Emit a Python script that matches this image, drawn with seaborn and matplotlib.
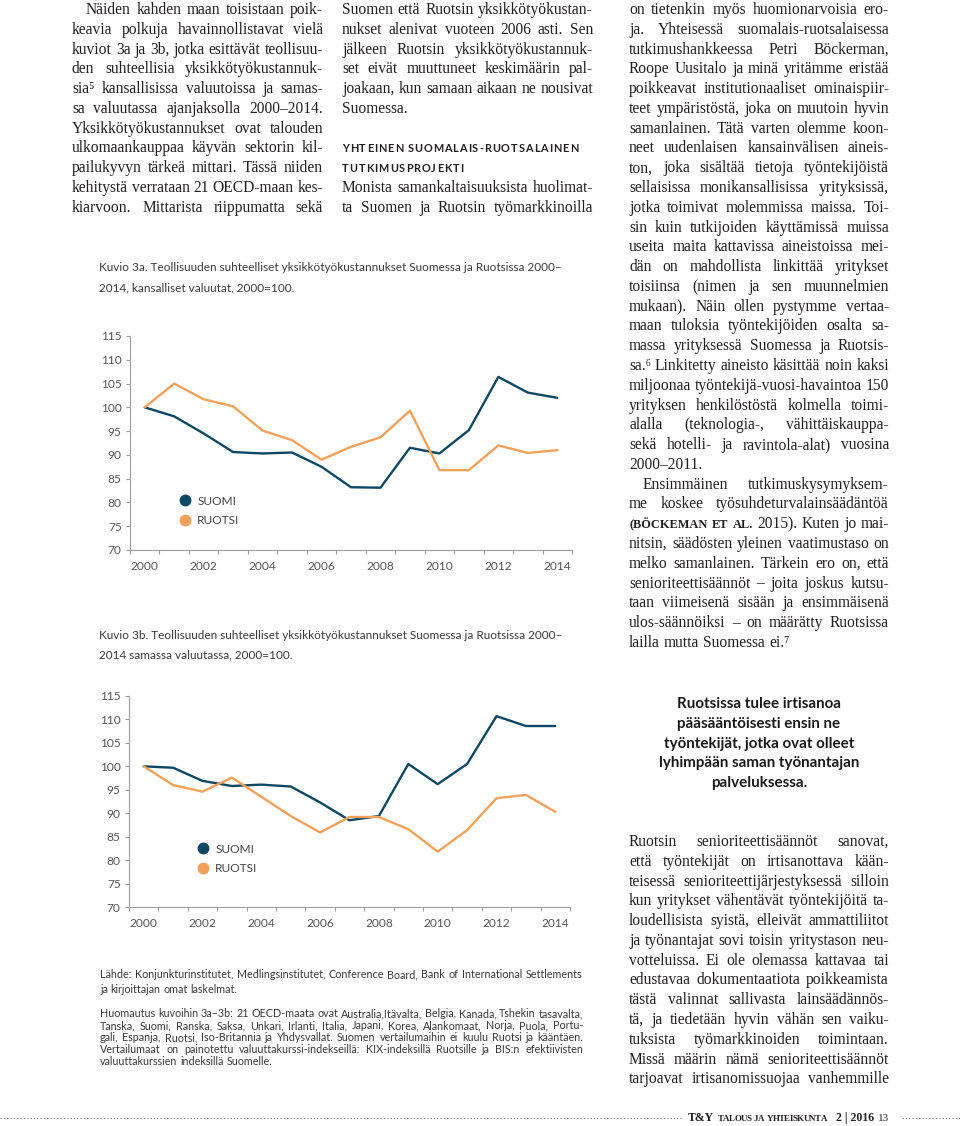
import numpy as np
import pandas as pd
import matplotlib
matplotlib.use('Agg')
import matplotlib.pyplot as plt
from matplotlib.lines import Line2D
import seaborn as sns

# ---- chart data ----
years = list(range(2000, 2015))
countries = ['SUOMI', 'RUOTSI']
suomi_3a = [100, 98.1, 94.5, 90.6, 90.3, 90.5, 87.5, 83.2, 83.1, 91.5, 90.3, 95.2, 106.4, 103.1, 102.0]
ruotsi_3a = [100, 105.0, 101.7, 100.2, 95.1, 93.1, 89.0, 91.7, 93.7, 99.3, 86.8, 86.8, 92.0, 90.4, 91.0]
suomi_3b = [100, 99.7, 96.9, 95.8, 96.1, 95.7, 92.3, 88.5, 89.4, 100.5, 96.2, 100.5, 110.7, 108.6, 108.6]
ruotsi_3b = [100, 96.0, 94.6, 97.6, 93.5, 89.4, 85.9, 89.2, 89.2, 86.6, 81.8, 86.4, 93.2, 93.9, 90.3]
y_ticks = [70, 75, 80, 85, 90, 95, 100, 105, 110, 115]
x_labels = [2000, 2002, 2004, 2006, 2008, 2010, 2012, 2014]
palette = {'SUOMI': '#0c4764', 'RUOTSI': '#f2a15a'}

# ---- page text ----
col1 = ["Näiden kahden maan toisistaan poik-",
        "keavia polkuja havainnollistavat vielä",
        "kuviot 3a ja 3b, jotka esittävät teollisuu-",
        "den suhteellisia yksikkötyökustannuk-",
        "sia⁵ kansallisissa valuutoissa ja samas-",
        "sa valuutassa ajanjaksolla 2000–2014.",
        "Yksikkötyökustannukset ovat talouden",
        "ulkomaankauppaa käyvän sektorin kil-",
        "pailukyvyn tärkeä mittari. Tässä niiden",
        "kehitystä verrataan 21 OECD-maan kes-",
        "kiarvoon. Mittarista riippumatta sekä"]
col2_top = ["Suomen että Ruotsin yksikkötyökustan-",
            "nukset alenivat vuoteen 2006 asti. Sen",
            "jälkeen Ruotsin yksikkötyökustannuk-",
            "set eivät muuttuneet keskimäärin pal-",
            "joakaan, kun samaan aikaan ne nousivat",
            "Suomessa."]
heading = ["YHTEINEN SUOMALAIS-RUOTSALAINEN", "TUTKIMUSPROJEKTI"]
col2_bottom = ["Monista samankaltaisuuksista huolimat-",
               "ta Suomen ja Ruotsin työmarkkinoilla"]
col3 = ["on tietenkin myös huomionarvoisia ero-",
        "ja. Yhteisessä suomalais-ruotsalaisessa",
        "tutkimushankkeessa Petri Böckerman,",
        "Roope Uusitalo ja minä yritämme eristää",
        "poikkeavat institutionaaliset ominaispiir-",
        "teet ympäristöstä, joka on muutoin hyvin",
        "samanlainen. Tätä varten olemme koon-",
        "neet uudenlaisen kansainvälisen aineis-",
        "ton, joka sisältää tietoja työntekijöistä",
        "sellaisissa monikansallisissa yrityksissä,",
        "jotka toimivat molemmissa maissa. Toi-",
        "sin kuin tutkijoiden käyttämissä muissa",
        "useita maita kattavissa aineistoissa mei-",
        "dän on mahdollista linkittää yritykset",
        "toisiinsa (nimen ja sen muunnelmien",
        "mukaan). Näin ollen pystymme vertaa-",
        "maan tuloksia työntekijöiden osalta sa-",
        "massa yrityksessä Suomessa ja Ruotsis-",
        "sa.⁶ Linkitetty aineisto käsittää noin kaksi",
        "miljoonaa työntekijä-vuosi-havaintoa 150",
        "yrityksen henkilöstöstä kolmella toimi-",
        "alalla (teknologia-, vähittäiskauppa-",
        "sekä hotelli- ja ravintola-alat) vuosina",
        "2000–2011.",
        "Ensimmäinen tutkimuskysymyksem-",
        "me koskee työsuhdeturvalainsäädäntöä",
        "^(BÖCKEMAN ^ET ^AL. 2015). Kuten jo mai-",
        "nitsin, säädösten yleinen vaatimustaso on",
        "melko samanlainen. Tärkein ero on, että",
        "senioriteettisäännöt – joita joskus kutsu-",
        "taan viimeisenä sisään ja ensimmäisenä",
        "ulos-säännöiksi – on määrätty Ruotsissa",
        "lailla mutta Suomessa ei.⁷"]
col3_bottom = ["Ruotsin senioriteettisäännöt sanovat,",
               "että työntekijät on irtisanottava kään-",
               "teisessä senioriteettijärjestyksessä silloin",
               "kun yritykset vähentävät työntekijöitä ta-",
               "loudellisista syistä, elleivät ammattiliitot",
               "ja työnantajat sovi toisin yritystason neu-",
               "votteluissa. Ei ole olemassa kattavaa tai",
               "edustavaa dokumentaatiota poikkeamista",
               "tästä valinnat sallivasta lainsäädännös-",
               "tä, ja tiedetään hyvin vähän sen vaiku-",
               "tuksista työmarkkinoiden toimintaan.",
               "Missä määrin nämä senioriteettisäännöt",
               "tarjoavat irtisanomissuojaa vanhemmille"]
quote = ["Ruotsissa tulee irtisanoa",
         "pääsääntöisesti ensin ne",
         "työntekijät, jotka ovat olleet",
         "lyhimpään saman työnantajan",
         "palveluksessa."]
caption_3a = ["Kuvio 3a. Teollisuuden suhteelliset yksikkötyökustannukset Suomessa ja Ruotsissa 2000–",
              "2014, kansalliset valuutat, 2000=100."]
caption_3b = ["Kuvio 3b. Teollisuuden suhteelliset yksikkötyökustannukset Suomessa ja Ruotsissa 2000–",
              "2014 samassa valuutassa, 2000=100."]
source = ["Lähde: Konjunkturinstitutet, Medlingsinstitutet, Conference Board, Bank of International Settlements",
          "ja kirjoittajan omat laskelmat."]
note = ["Huomautus kuvoihin 3a–3b: 21 OECD-maata ovat Australia,Itävalta, Belgia, Kanada, Tshekin tasavalta,",
        "Tanska, Suomi, Ranska, Saksa, Unkari, Irlanti, Italia, Japani, Korea, Alankomaat, Norja, Puola, Portu-",
        "gali, Espanja, Ruotsi, Iso-Britannia ja Yhdysvallat. Suomen vertailumaihin ei kuulu Ruotsi ja kääntäen.",
        "Vertailumaat on painotettu valuuttakurssi-indekseillä: KIX-indeksillä Ruotsille ja BIS:n efektiivisten",
        "valuuttakurssien indeksillä Suomelle."]

W, H = 960, 1126
sns.set_style('white')
plt.rcParams['font.family'] = ['Lato', 'DejaVu Sans']

fig = plt.figure(figsize=(W / 100, H / 100), dpi=100)
renderer = fig.canvas.get_renderer()
serif = ['Liberation Serif', 'DejaVu Serif']
sans = ['Lato', 'DejaVu Sans']
ink = '#231f20'
grey = '#3a3a3a'


def put(x, y, s, **kw):
    return fig.text(x / W, 1 - y / H, s, va='baseline', **kw)


def width(s, **kw):
    t = fig.text(0, 0, s, **kw)
    w = t.get_window_extent(renderer).width
    t.remove()
    return w


def set_line(line, x0, x1, y, size, justify=True, family=serif, color=ink):
    texts, scales = [], []
    for w in line.split(' '):
        if w.startswith('^'):
            texts.append(put(x0, y, w[1:], fontsize=size * 0.8, family=family,
                             color=color, fontweight='bold'))
            scales.append(0.8)
        else:
            texts.append(put(x0, y, w, fontsize=size, family=family, color=color))
            scales.append(1.0)
    widths = [t.get_window_extent(renderer).width for t in texts]
    min_gap = size * 100 / 72 * 0.16
    room = x1 - x0 - min_gap * (len(texts) - 1)
    if sum(widths) > room:
        k = room / sum(widths)
        for t, s in zip(texts, scales):
            t.set_fontsize(size * s * k)
        widths = [t.get_window_extent(renderer).width for t in texts]
    if justify and len(texts) > 1:
        gap = (x1 - x0 - sum(widths)) / (len(texts) - 1)
    else:
        gap = size * 100 / 72 * 0.26
    x = x0
    for t, w in zip(texts, widths):
        t.set_x(x / W)
        x += w + gap


def column(lines, x0, x1, y0, size, step=19.78, indent=(), ragged=()):
    for i, ln in enumerate(lines):
        xs = x0 + (14 if i in indent else 0)
        set_line(ln, xs, x1, y0 + i * step, size, justify=i not in ragged)


def char_widths(s, **kw):
    return [0 if ch == ' ' else width(ch, **kw) for ch in s]


def tracked(s, x0, y, track, **kw):
    x = x0
    size = kw.get('fontsize', 10)
    for ch in s:
        if ch == ' ':
            x += size * 100 / 72 * 0.3
            continue
        t = put(x, y, ch, **kw)
        x += t.get_window_extent(renderer).width + track
    return x


def tracking_for(s, target, **kw):
    size = kw.get('fontsize', 10)
    n = len(s.replace(' ', ''))
    natural = sum(char_widths(s, **kw)) + s.count(' ') * size * 100 / 72 * 0.3
    return (target - natural) / (n - 1)


body = 11.2
column(col1, 72, 323, 14, body, indent=(0,))
column(col2_top, 342, 593, 14, body, ragged=(5,))
column(col2_bottom, 342, 593, 14 + 9 * 19.78, body)
column(col3, 629, 889, 14, body, indent=(24,), ragged=(23, 32))
column(col3_bottom, 629, 889, 846, body)

# heading with letter spacing
hkw = dict(fontsize=7.8, fontweight='bold', color=ink)
track = tracking_for(heading[0], 578 - 342, **hkw)
tracked(heading[0], 342, 14 + 7 * 19.78, track, **hkw)
tracked(heading[1], 342, 14 + 8 * 19.78, track, **hkw)

# pull quote
qsize = 10 * 200 / width(quote[3], fontsize=10, fontweight='bold')
for i, ln in enumerate(quote):
    put(759, 708 + i * 19.8, ln, fontsize=qsize, fontweight='bold', color='#1a1a1a', ha='center')

# captions and notes
csize = 9 * 464 / width(caption_3a[0], fontsize=9)
for i, ln in enumerate(caption_3a):
    put(99, 271 + i * 20, ln, fontsize=csize, color=grey)
for i, ln in enumerate(caption_3b):
    put(99, 639 + i * 19.5, ln, fontsize=csize, color=grey)

nsize = 8 * 482 / width(source[0], fontsize=8)
set_line(source[0], 100, 582, 978.5, nsize, family=sans, color=grey)
set_line(source[1], 100, 582, 993, nsize, justify=False, family=sans, color=grey)
for i, ln in enumerate(note):
    set_line(ln, 100, 583, 1017 + i * 12, nsize, justify=i < len(note) - 1,
             family=sans, color=grey)


# ---- charts ----
def chart(ax, suomi, ruotsi, leg_left, leg_mid):
    df = pd.DataFrame({'vuosi': years + years,
                       'indeksi': suomi + ruotsi,
                       'maa': [countries[0]] * len(years) + [countries[1]] * len(years)})
    sns.lineplot(data=df, x='vuosi', y='indeksi', hue='maa', palette=palette,
                 linewidth=1.7, legend=False, ax=ax)
    ax.set_xlim(1999.5, 2014.5)
    ax.set_ylim(70, 115)
    ax.set_xticks(x_labels)
    ax.set_xticks(np.arange(1999.5, 2015, 1), minor=True)
    ax.set_yticks(y_ticks)
    ax.set_xlabel('')
    ax.set_ylabel('')
    sns.despine(ax=ax)
    for s in ['left', 'bottom']:
        ax.spines[s].set_color('#9d9d9d')
        ax.spines[s].set_linewidth(0.8)
    ax.tick_params(axis='x', which='major', bottom=True, length=0, pad=8,
                   labelsize=8.6, labelcolor='#555555')
    ax.tick_params(axis='x', which='minor', bottom=True, length=3, width=0.8, color='#9d9d9d')
    ax.tick_params(axis='y', left=True, length=3, width=0.8, color='#9d9d9d', pad=3,
                   labelsize=8.6, labelcolor='#555555')
    handles = [Line2D([], [], marker='o', linestyle='', markersize=7.5, color=palette[c])
               for c in countries]
    ax.legend(handles, countries, loc='center left',
              bbox_to_anchor=(leg_left / W, 1 - leg_mid / H), bbox_transform=fig.transFigure,
              frameon=False, handlelength=1.0, handletextpad=0.53, labelspacing=0.75,
              borderpad=0, borderaxespad=0, fontsize=8.6, labelcolor='#444444')


ax1 = fig.add_axes([130 / W, 1 - 550 / H, 442 / W, 214 / H])
chart(ax1, suomi_3a, ruotsi_3a, 179, 511)
ax2 = fig.add_axes([129 / W, 1 - 907 / H, 441 / W, 211 / H])
chart(ax2, suomi_3b, ruotsi_3b, 197, 859)

# ---- footer ----
for xa, xb in [(0, 682), (902, 960)]:
    fig.add_artist(Line2D([xa / W, xb / W], [1 - 1118 / H] * 2, transform=fig.transFigure,
                          color='#8a8a8a', lw=0.8, linestyle=(0, (1.2, 1.8))))
put(688, 1121, 'T&Y', fontsize=8.5, family=serif, fontweight='bold', color=ink)
fkw = dict(fontsize=6.4, family=serif, fontweight='bold', color=ink)
tracked('TALOUS JA YHTEISKUNTA', 718, 1121, tracking_for('TALOUS JA YHTEISKUNTA', 109, **fkw), **fkw)
put(836, 1121, '2 | 2016', fontsize=8.5, family=serif, fontweight='bold', color=ink)
put(878, 1121, '13', fontsize=8, family=serif, color=ink)

fig.savefig('out.png', dpi=100)
